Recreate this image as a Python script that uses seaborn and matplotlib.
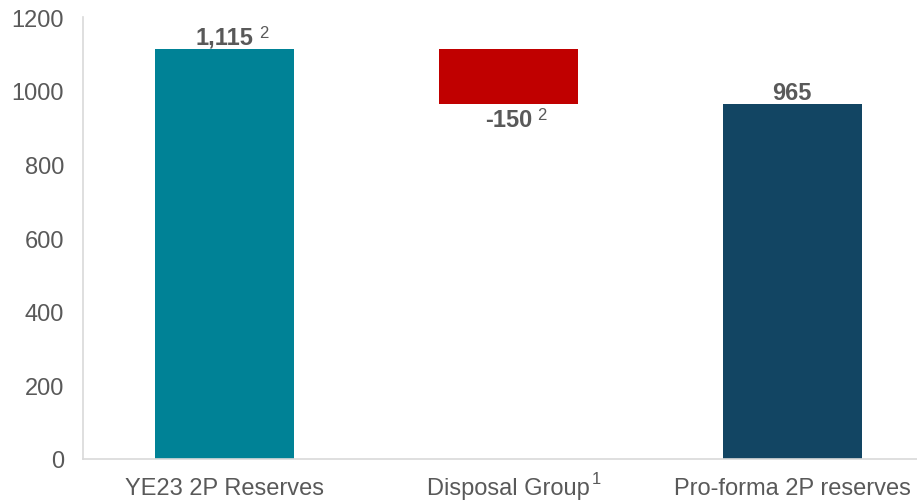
import matplotlib
matplotlib.use("Agg")
import matplotlib.pyplot as plt
import seaborn as sns
import pandas as pd

# Reserves bridge (MMboe)
categories = ["YE23 2P Reserves", "Disposal Group", "Pro-forma 2P reserves"]
category_notes = ["", "1", ""]
changes = [1115, -150, 965]
value_labels = ["1,115", "-150", "965"]
footnotes = ["2", "2", ""]
bar_colors = ["#008296", "#C00000", "#124563"]
y_ticks = [0, 200, 400, 600, 800, 1000, 1200]

# Floating bases: totals start at zero, the movement hangs from the previous total
bases = [0, changes[0] + changes[1], 0]
heights = [changes[0], -changes[1], changes[2]]
df = pd.DataFrame({"category": categories, "base": bases, "height": heights,
                   "top": [b + h for b, h in zip(bases, heights)]})

sns.set_theme(style="white")
plt.rcParams["font.family"] = ["Liberation Sans", "DejaVu Sans"]

fig = plt.figure(figsize=(9.17, 5.02), dpi=100)
ax = fig.add_axes([0.0905, 0.0837, 0.9095, 0.880])

sns.barplot(data=df, x="category", y="top", ax=ax, color="white", width=0.49,
            saturation=1, linewidth=0)
for patch, b, h, c in zip(ax.patches, df["base"], df["height"], bar_colors):
    patch.set_y(b)
    patch.set_height(h)
    patch.set_facecolor(c)

grey = "#595959"
ax.set_ylim(0, 1200)
ax.set_xlim(-0.5, 2.44)
ax.set_yticks(y_ticks)
ax.set_xlabel("")
ax.set_ylabel("")
ax.set_xticks(range(len(categories)))
ax.set_xticklabels(categories)
ax.tick_params(axis="both", length=0, labelsize=17, colors=grey)
ax.tick_params(axis="y", pad=13.5)
ax.tick_params(axis="x", pad=13)
for s in ["top", "right"]:
    ax.spines[s].set_visible(False)
for s in ["left", "bottom"]:
    ax.spines[s].set_color("#D9D9D9")
    ax.spines[s].set_linewidth(1.2)

# value labels above totals, below the decrease
main_labels = []
for i, (b, h, lab) in enumerate(zip(df["base"], df["height"], value_labels)):
    if changes[i] < 0:
        y, va, off = b, "top", -3
    else:
        y, va, off = b + h, "bottom", 0
    t = ax.annotate(lab, (i, y), xytext=(0, off), textcoords="offset points",
                    ha="center", va=va, fontsize=17, fontweight="bold", color=grey)
    main_labels.append(t)

fig.canvas.draw()
r = fig.canvas.get_renderer()

# footnote markers right after the value labels
for t, fn in zip(main_labels, footnotes):
    if not fn:
        continue
    bb = t.get_window_extent(r)
    fig.text((bb.x1 + 5) / fig.bbox.width, (bb.y1 + 1) / fig.bbox.height, fn,
             ha="left", va="top", fontsize=12, color=grey)

# footnote markers on the category labels
for t, fn in zip(ax.get_xticklabels(), category_notes):
    if not fn:
        continue
    bb = t.get_window_extent(r)
    fig.text((bb.x1 + 2) / fig.bbox.width, (bb.y1 + 6) / fig.bbox.height, fn,
             ha="left", va="top", fontsize=12, color=grey)

fig.savefig("out.png", dpi=100, facecolor="white")
